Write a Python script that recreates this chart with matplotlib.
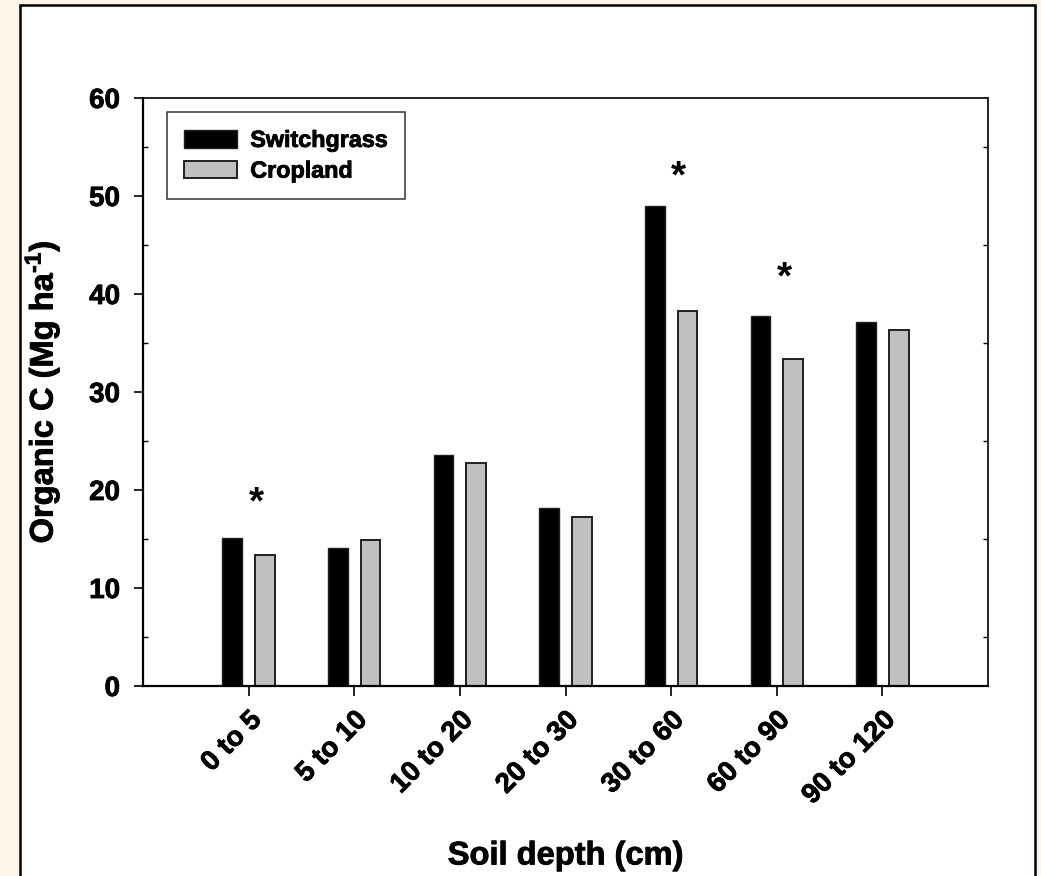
import numpy as np
import matplotlib
matplotlib.use('Agg')
import matplotlib.pyplot as plt
import matplotlib.patheffects as pe
from matplotlib.patches import Rectangle
from matplotlib.ticker import MultipleLocator

plt.rcParams['font.family'] = ['Liberation Sans', 'DejaVu Sans']
plt.rcParams['font.weight'] = 'bold'
plt.rcParams['mathtext.fontset'] = 'custom'
plt.rcParams['mathtext.rm'] = 'Liberation Sans:bold'
plt.rcParams['mathtext.bf'] = 'Liberation Sans:bold'
plt.rcParams['mathtext.default'] = 'bf'

# data
depths = ['0 to 5', '5 to 10', '10 to 20', '20 to 30', '30 to 60', '60 to 90', '90 to 120']
switchgrass = [15.1, 14.05, 23.55, 18.2, 49.0, 37.8, 37.1]
cropland = [13.4, 14.85, 22.8, 17.2, 38.3, 33.4, 36.3]
# asterisk marks (category index, height)
star_idx = [0, 4, 5]
star_y = [18.6, 51.9, 41.6]

fig = plt.figure(figsize=(10.41, 8.76), dpi=100)
fig.patch.set_facecolor('#fdf6e8')
# white panel with black frame
panel = Rectangle((20 / 1041, -0.05), (1035 - 20) / 1041, 1.05 - 5 / 876,
                  transform=fig.transFigure, facecolor='white',
                  edgecolor='black', linewidth=1.8, zorder=-10)
fig.patches.append(panel)

ax = fig.add_axes([143 / 1041, 1 - 686 / 876, (988 - 143) / 1041, (686 - 98) / 876])
ax.set_facecolor('white')

x = np.arange(len(depths))
w = 0.185
off = 0.155
ax.bar(x - off, switchgrass, w, color='black', edgecolor='#202020',
       linewidth=1.0, label='Switchgrass')
ax.bar(x + off, cropland, w, color='#c0c0c0', edgecolor='#202020',
       linewidth=1.4, label='Cropland')

for i, yy in zip(star_idx, star_y):
    ax.text(i + 0.07, yy, '*', ha='center', va='center', fontsize=28, fontweight='bold')

ax.set_xlim(-1, 7)
ax.set_ylim(0, 60)
ax.set_xticks(x)
ax.set_xticklabels(depths, rotation=45, ha='right', va='top',
                   rotation_mode='anchor', fontsize=20, fontweight='bold')
ax.yaxis.set_major_locator(MultipleLocator(10))
ax.yaxis.set_minor_locator(MultipleLocator(5))
ax.tick_params(axis='y', which='major', direction='out', length=6.5, width=1.2,
               labelsize=20, pad=10, right=False)
ax.tick_params(axis='y', which='minor', direction='in', length=3.6, width=1.0,
               left=True, right=True)
ax.tick_params(axis='x', which='major', direction='out', length=7, width=1.2,
               pad=8, top=False)

for s in ['left', 'bottom']:
    ax.spines[s].set_linewidth(1.6)
for s in ['top', 'right']:
    ax.spines[s].set_linewidth(1.2)

ax.set_ylabel('Organic C (Mg ha$^{\\text{-1}}$)', fontsize=23.5, fontweight='bold', va='center')
ax.yaxis.set_label_coords(-0.1195, 0.5)
ax.set_xlabel('Soil depth (cm)', fontsize=23.5, fontweight='bold', va='center')
ax.xaxis.set_label_coords(0.5, -0.289)

leg = ax.legend(loc='upper left', bbox_to_anchor=(0.0284, 0.976), borderaxespad=0,
                fontsize=16.8, fancybox=False, frameon=True, handlelength=2.3,
                handleheight=0.78, handletextpad=0.55, labelspacing=0.33,
                borderpad=0.72)
leg.get_frame().set_edgecolor('black')
leg.get_frame().set_linewidth(1.1)
for t in leg.get_texts():
    t.set_fontweight('bold')

# slightly heavier text, closer to the original rendering
heavy = [pe.withStroke(linewidth=0.6, foreground='black')]
for t in ax.get_xticklabels() + ax.get_yticklabels() + leg.get_texts():
    t.set_path_effects(heavy)
ax.xaxis.label.set_path_effects(heavy)
ax.yaxis.label.set_path_effects(heavy)

fig.savefig('out.png', dpi=100, facecolor=fig.get_facecolor())
